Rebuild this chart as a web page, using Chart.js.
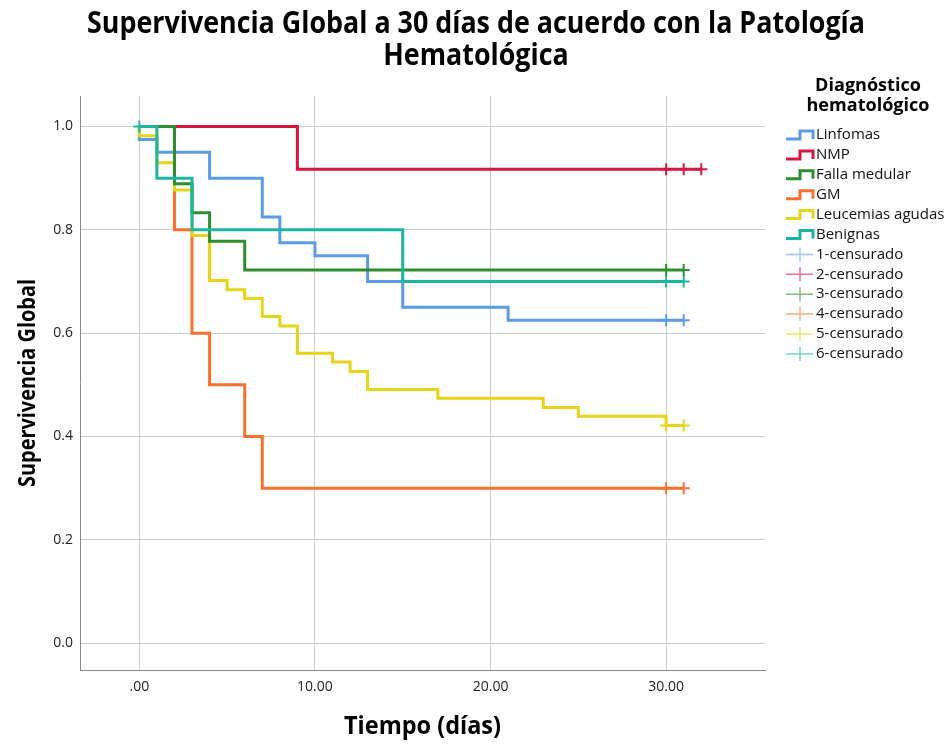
<!DOCTYPE html>
<html><head><meta charset="utf-8">
<script src="https://cdn.jsdelivr.net/npm/chart.js@4"></script>
<style>html,body{margin:0;padding:0;background:#fff}</style>
</head><body>
<canvas id="c" width="950" height="745"></canvas>
<script>
// ---- Data ----
const chartTitle1 = 'Supervivencia Global a 30 días de acuerdo con la Patología';
const chartTitle2 = 'Hematológica';
const xTitle = 'Tiempo (días)';
const yTitle = 'Supervivencia Global';
const legendTitle1 = 'Diagnóstico';
const legendTitle2 = 'hematológico';

const seriesNames = ['Linfomas', 'NMP', 'Falla medular', 'GM', 'Leucemias agudas', 'Benignas'];
const censorNames = ['1-censurado', '2-censurado', '3-censurado', '4-censurado', '5-censurado', '6-censurado'];

const linfomasTime = [0, 0, 1, 4, 7, 8, 10, 13, 15, 21, 31];
const linfomasSurv = [1, 0.975, 0.95, 0.90, 0.825, 0.775, 0.75, 0.70, 0.65, 0.625, 0.625];
const nmpTime = [0, 9, 32];
const nmpSurv = [1, 0.917, 0.917];
const fallaTime = [0, 2, 3, 4, 6, 31];
const fallaSurv = [1, 0.889, 0.833, 0.778, 0.722, 0.722];
const gmTime = [0, 2, 3, 4, 6, 7, 31];
const gmSurv = [1, 0.8, 0.6, 0.5, 0.4, 0.3, 0.3];
const leucTime = [0, 0, 1, 2, 3, 4, 5, 6, 7, 8, 9, 11, 12, 13, 17, 23, 25, 30, 31];
const leucSurv = [1, 0.982, 0.930, 0.877, 0.789, 0.702, 0.684, 0.667, 0.632, 0.614, 0.561, 0.544, 0.526, 0.491, 0.474, 0.456, 0.439, 0.421, 0.421];
const benTime = [0, 1, 3, 15, 31];
const benSurv = [1, 0.9, 0.8, 0.7, 0.7];

const linfomasCensTime = [30, 31];
const linfomasCensSurv = [0.625, 0.625];
const nmpCensTime = [30, 31, 32];
const nmpCensSurv = [0.917, 0.917, 0.917];
const fallaCensTime = [30, 31];
const fallaCensSurv = [0.722, 0.722];
const gmCensTime = [30, 31];
const gmCensSurv = [0.3, 0.3];
const leucCensTime = [30, 31];
const leucCensSurv = [0.421, 0.421];
const benCensTime = [0, 30, 31];
const benCensSurv = [1, 0.7, 0.7];

const xTickValues = [0, 10, 20, 30];
const yTickValues = [0, 0.2, 0.4, 0.6, 0.8, 1.0];

// ---- Styles ----
const colors = ['#5b9ae6', '#d6173f', '#2f8d2f', '#f8712f', '#e4d41a', '#1cb59f'];
const drawOrder = [15, 16, 12, 14, 13, 11]; // lower = drawn on top
const FAM = "'Open Sans', 'DejaVu Sans', sans-serif";

const times = [linfomasTime, nmpTime, fallaTime, gmTime, leucTime, benTime];
const survs = [linfomasSurv, nmpSurv, fallaSurv, gmSurv, leucSurv, benSurv];
const cTimes = [linfomasCensTime, nmpCensTime, fallaCensTime, gmCensTime, leucCensTime, benCensTime];
const cSurvs = [linfomasCensSurv, nmpCensSurv, fallaCensSurv, gmCensSurv, leucCensSurv, benCensSurv];

const datasets = [];
seriesNames.forEach((n, i) => {
  datasets.push({
    type: 'line', label: n,
    data: times[i].map((t, j) => ({x: t, y: survs[i][j]})),
    borderColor: colors[i], backgroundColor: colors[i], borderWidth: 3,
    stepped: 'before', pointRadius: 0, fill: false, order: drawOrder[i],
    borderCapStyle: 'butt', borderJoinStyle: 'miter'
  });
});
censorNames.forEach((n, i) => {
  datasets.push({
    type: 'scatter', label: n,
    data: cTimes[i].map((t, j) => ({x: t, y: cSurvs[i][j]})),
    borderColor: colors[i], backgroundColor: colors[i], borderWidth: 2,
    pointStyle: 'cross', pointRadius: 6, order: 1
  });
});

function fitText(ctx, text, cx, cy, size, weight, sx, rot) {
  ctx.save();
  ctx.font = weight + ' ' + size + 'px ' + FAM;
  ctx.translate(cx, cy);
  if (rot) ctx.rotate(-Math.PI / 2);
  ctx.scale(sx, 1);
  ctx.textAlign = 'center';
  ctx.textBaseline = 'middle';
  ctx.fillStyle = '#000';
  ctx.fillText(text, 0, 0);
  ctx.restore();
}
function scaleFor(ctx, text, size, weight, target) {
  ctx.save();
  ctx.font = weight + ' ' + size + 'px ' + FAM;
  const w = ctx.measureText(text).width;
  ctx.restore();
  return target / w;
}

const decor = {
  id: 'decor',
  afterDraw(chart) {
    const ctx = chart.ctx;
    const ca = chart.chartArea;
    // main title
    const s1 = scaleFor(ctx, chartTitle1, 30, 'bold', 778);
    fitText(ctx, chartTitle1, 476, 24, 30, 'bold', s1);
    fitText(ctx, chartTitle2, 476, 56, 30, 'bold', s1);
    // axis titles
    const sy = scaleFor(ctx, yTitle, 24, 'bold', 208);
    fitText(ctx, yTitle, 28, (ca.top + ca.bottom) / 2, 24, 'bold', sy, true);
    const sx = scaleFor(ctx, xTitle, 25, 'bold', 157);
    fitText(ctx, xTitle, (ca.left + ca.right) / 2, 727, 25, 'bold', sx);
    // legend
    const sl = scaleFor(ctx, legendTitle2, 17, 'bold', 123);
    fitText(ctx, legendTitle1, 868, 86, 17, 'bold', sl);
    fitText(ctx, legendTitle2, 868, 106, 17, 'bold', sl);
    const items = seriesNames.concat(censorNames);
    ctx.save();
    items.forEach((name, k) => {
      const y = 135 + k * 19.9;
      const ci = k % 6;
      ctx.strokeStyle = colors[ci];
      if (k < 6) {
        ctx.lineWidth = 3;
        ctx.globalAlpha = 1;
        ctx.beginPath();
        ctx.moveTo(786, y + 4);
        ctx.lineTo(800, y + 4);
        ctx.lineTo(800, y - 4);
        ctx.lineTo(813, y - 4);
        ctx.lineTo(813, y + 4);
        ctx.stroke();
      } else {
        ctx.lineWidth = 1.5;
        ctx.globalAlpha = 0.6;
        ctx.beginPath();
        ctx.moveTo(786, y); ctx.lineTo(813, y);
        ctx.moveTo(800, y - 7); ctx.lineTo(800, y + 7);
        ctx.stroke();
      }
      ctx.globalAlpha = 1;
      ctx.font = '15px ' + FAM;
      ctx.fillStyle = '#111';
      ctx.textAlign = 'left';
      ctx.textBaseline = 'middle';
      ctx.fillText(name, 816, y);
    });
    ctx.restore();
  }
};

new Chart(document.getElementById('c'), {
  data: {datasets},
  options: {
    responsive: false, animation: false, devicePixelRatio: 1,
    layout: {padding: {top: 96, right: 185, bottom: 0, left: 0}},
    plugins: {legend: {display: false}, title: {display: false}, tooltip: {enabled: false}},
    scales: {
      x: {
        type: 'linear', min: -3.38, max: 35.63,
        afterFit(s) { s.height = 75; },
        afterBuildTicks(s) { s.ticks = xTickValues.map(v => ({value: v})); },
        grid: {color: '#cccccc', lineWidth: 1, drawTicks: false},
        border: {display: true, color: '#8a8a8a', width: 1},
        ticks: {padding: 9, color: '#222', font: {family: FAM, size: 14},
          callback: v => v === 0 ? '.00' : v.toFixed(2), maxRotation: 0}
      },
      y: {
        type: 'linear', min: -0.052, max: 1.059,
        afterFit(s) { s.width = 80; },
        afterBuildTicks(s) { s.ticks = yTickValues.map(v => ({value: v})); },
        grid: {color: '#cccccc', lineWidth: 1, drawTicks: false},
        border: {display: true, color: '#8a8a8a', width: 1},
        ticks: {padding: 7, color: '#222', font: {family: FAM, size: 14},
          callback: v => v.toFixed(1)}
      }
    }
  },
  plugins: [decor]
});
</script>
</body></html>
